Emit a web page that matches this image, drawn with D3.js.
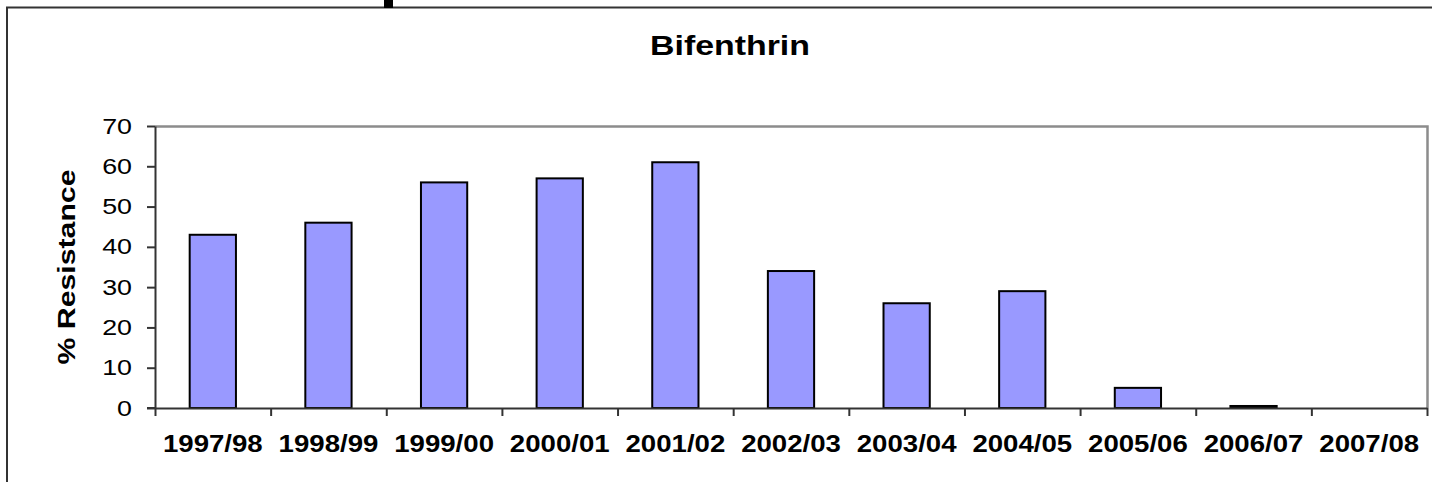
<!DOCTYPE html>
<html>
<head>
<meta charset="utf-8">
<script src="https://cdn.jsdelivr.net/npm/d3@7"></script>
<style>
  html, body { margin: 0; padding: 0; background: #fff; }
  svg { display: block; }
  text { font-family: "Liberation Sans", Arial, Helvetica, sans-serif; fill: #000; }
</style>
</head>
<body>
<svg id="chart" width="1432" height="482"></svg>
<script>
// ---- data ----
const categories = ["1997/98","1998/99","1999/00","2000/01","2001/02","2002/03","2003/04","2004/05","2005/06","2006/07","2007/08"];
const values = [43, 46, 56, 57, 61, 34, 26, 29, 5, 0.5, 0];
const yTicks = [0, 10, 20, 30, 40, 50, 60, 70];
const titleText = "Bifenthrin";
const yTitle = "% Resistance";

// ---- layout ----
const W = 1432, H = 482;
const plot = { left: 155, right: 1427, top: 126, bottom: 408 };
const svg = d3.select("#chart");

function stretch(sel, ratio) {
  sel.each(function () {
    const l = this.getComputedTextLength();
    d3.select(this).attr("textLength", l * ratio).attr("lengthAdjust", "spacingAndGlyphs");
  });
}

// outer frame (left and top edges only visible)
svg.append("line").attr("x1", 7).attr("x2", 7).attr("y1", 7).attr("y2", H)
  .attr("stroke", "#333").attr("stroke-width", 2);
svg.append("line").attr("x1", 6).attr("x2", W).attr("y1", 7.5).attr("y2", 7.5)
  .attr("stroke", "#333").attr("stroke-width", 2);
// small black blob on top edge
svg.append("rect").attr("x", 384).attr("y", 0).attr("width", 9).attr("height", 8).attr("fill", "#000");

// scales
const x = d3.scaleBand().domain(categories).range([plot.left, plot.right]).paddingInner(0.6).paddingOuter(0.3);
const xb = d3.scaleLinear().domain([0, categories.length]).range([plot.left, plot.right]);
const y = d3.scaleLinear().domain([0, 70]).range([plot.bottom, plot.top]);

// plot area border (gray top & right)
svg.append("path")
  .attr("d", `M${plot.left},${plot.top + 0.5}H${plot.right + 0.5}V${plot.bottom}`)
  .attr("fill", "none").attr("stroke", "#8c8c8c").attr("stroke-width", 2.5);

// bars
svg.append("g").selectAll("rect").data(values).join("rect")
  .attr("x", (d, i) => x(categories[i]))
  .attr("width", x.bandwidth())
  .attr("y", d => y(d))
  .attr("height", d => y(0) - y(d))
  .attr("fill", "#9999ff")
  .attr("stroke", d => d > 0 ? "#000" : "none")
  .attr("stroke-width", 2);

// y axis
const gy = svg.append("g").attr("transform", `translate(${plot.left},0)`)
  .call(d3.axisLeft(y).tickValues(yTicks).tickSize(8).tickSizeOuter(0).tickPadding(15));
gy.select(".domain").attr("stroke", "#333").attr("stroke-width", 2);
gy.selectAll(".tick line").attr("stroke", "#333").attr("stroke-width", 2);
gy.selectAll(".tick text").attr("font-size", 22).attr("font-family", "Liberation Sans, Arial, sans-serif")
  .attr("fill", "#000").call(stretch, 1.22);

// x axis boundary ticks + line
const gxb = svg.append("g").attr("transform", `translate(0,${plot.bottom})`)
  .call(d3.axisBottom(xb).tickValues(d3.range(categories.length + 1)).tickFormat("").tickSize(8).tickSizeOuter(0));
gxb.select(".domain").attr("stroke", "#333").attr("stroke-width", 2);
gxb.selectAll(".tick line").attr("stroke", "#333").attr("stroke-width", 2);
// extend baseline to the left over the 0 tick
svg.append("line").attr("x1", plot.left - 8).attr("x2", plot.left).attr("y1", plot.bottom).attr("y2", plot.bottom)
  .attr("stroke", "#333").attr("stroke-width", 2);

// x axis labels
const gx = svg.append("g").attr("transform", `translate(0,${plot.bottom})`)
  .call(d3.axisBottom(x).tickSize(0).tickPadding(28));
gx.select(".domain").remove();
gx.selectAll(".tick text").attr("font-size", 23).attr("font-weight", "bold")
  .attr("font-family", "Liberation Sans, Arial, sans-serif").attr("fill", "#000").call(stretch, 1.2);

// title
svg.append("text").attr("x", 730).attr("y", 55).attr("text-anchor", "middle")
  .attr("font-size", 28).attr("font-weight", "bold").text(titleText).call(stretch, 1.21);

// y title
svg.append("text").attr("transform", `translate(75,${(plot.top + plot.bottom) / 2}) rotate(-90)`)
  .attr("text-anchor", "middle").attr("font-size", 24).attr("font-weight", "bold")
  .text(yTitle).call(stretch, 1.26);
</script>
</body>
</html>
